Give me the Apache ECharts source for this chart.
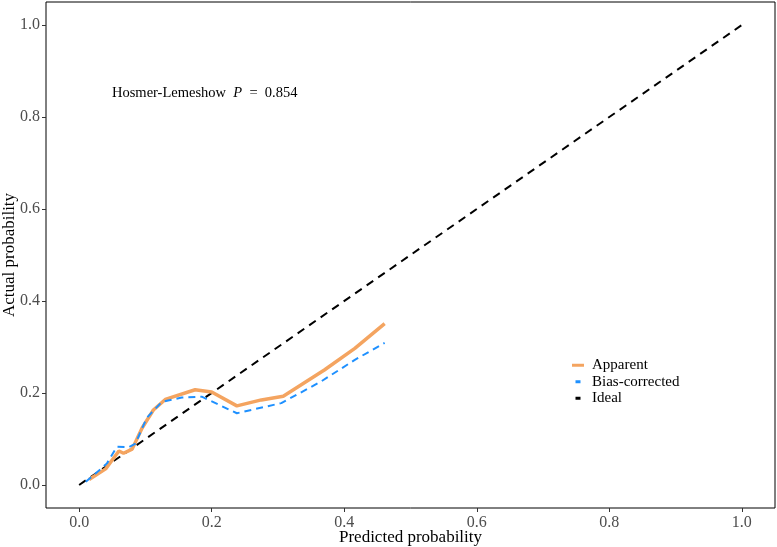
<!DOCTYPE html>
<html>
<head>
<meta charset="utf-8">
<script src="https://cdn.jsdelivr.net/npm/echarts@6/dist/echarts.min.js"></script>
<style>
  html, body { margin: 0; padding: 0; background: #fff; }
  #main { width: 777px; height: 547px; }
</style>
</head>
<body>
<div id="main"></div>
<script>
// calibration curves
var apparentX = [0.015, 0.040, 0.060, 0.067, 0.080, 0.095, 0.112, 0.130, 0.175, 0.200, 0.238, 0.275, 0.308, 0.370, 0.416, 0.461];
var apparentY = [0.012, 0.035, 0.074, 0.069, 0.078, 0.124, 0.163, 0.186, 0.207, 0.202, 0.172, 0.185, 0.193, 0.250, 0.297, 0.351];
var biasX = [0.010, 0.032, 0.042, 0.057, 0.075, 0.085, 0.102, 0.125, 0.155, 0.185, 0.238, 0.305, 0.365, 0.416, 0.461];
var biasY = [0.007, 0.034, 0.047, 0.083, 0.082, 0.090, 0.146, 0.181, 0.190, 0.192, 0.156, 0.178, 0.225, 0.272, 0.309];
var idealX = [0, 1];
var idealY = [0, 1];
var tickValues = [0, 0.2, 0.4, 0.6, 0.8, 1.0];
var seriesNames = ['Apparent', 'Bias-corrected', 'Ideal'];

function pairs(xs, ys) {
  return xs.map(function (x, i) { return [x, ys[i]]; });
}

var font = 'Liberation Serif';
var chart = echarts.init(document.getElementById('main'));

function makeAxis(name, gap, margin) {
  return {
    type: 'value',
    min: -0.05,
    max: 1.05,
    name: name,
    nameLocation: 'middle',
    nameGap: gap,
    nameMoveOverlap: false,
    splitLine: { show: false },
    axisLine: { show: false, onZero: false },
    axisTick: { show: true, length: 4, customValues: tickValues, lineStyle: { color: '#333' } },
    nameTextStyle: { fontFamily: font, fontSize: 17, color: '#000' },
    axisLabel: {
      fontFamily: font, fontSize: 16, color: '#4d4d4d', margin: margin,
      customValues: tickValues,
      formatter: function (v) { return v.toFixed(1); }
    }
  };
}

chart.setOption({
  animation: false,
  backgroundColor: '#fff',
  grid: {
    left: 46, right: 2, top: 2, bottom: 39,
    outerBoundsMode: 'none',
    containLabel: false,
    show: true, borderColor: '#000', borderWidth: 1, backgroundColor: 'transparent'
  },
  xAxis: makeAxis('Predicted probability', 21, 7),
  yAxis: makeAxis('Actual probability', 28, 6),
  legend: {
    orient: 'vertical',
    left: 572,
    top: 357,
    padding: 0,
    itemGap: 0,
    itemWidth: 12,
    itemHeight: 3,
    textStyle: { fontFamily: font, fontSize: 15, color: '#000', lineHeight: 16.5, padding: [0, 0, 0, 3] },
    data: [
      { name: seriesNames[0], icon: 'rect', itemStyle: { color: '#F4A460' } },
      { name: seriesNames[1], icon: 'path://M0,0h5v3h-5z', itemStyle: { color: '#1E90FF' } },
      { name: seriesNames[2], icon: 'path://M0,0h5v3h-5z', itemStyle: { color: '#000' } }
    ]
  },
  graphic: [{
    type: 'text',
    left: 112,
    top: 86,
    style: {
      text: '{a|Hosmer-Lemeshow  }{b|P}{a|  =  0.854}',
      rich: {
        a: { fontFamily: font, fontSize: 14.5, fill: '#000' },
        b: { fontFamily: font, fontSize: 14.5, fontStyle: 'italic', fill: '#000' }
      }
    }
  }],
  series: [
    {
      name: seriesNames[0], type: 'line', data: pairs(apparentX, apparentY),
      showSymbol: false, symbol: 'none', z: 3,
      lineStyle: { color: '#F4A460', width: 3.5 },
      itemStyle: { color: '#F4A460' }
    },
    {
      name: seriesNames[1], type: 'line', data: pairs(biasX, biasY),
      showSymbol: false, symbol: 'none', z: 4,
      lineStyle: { color: '#1E90FF', width: 2, type: [7, 5] },
      itemStyle: { color: '#1E90FF' }
    },
    {
      name: seriesNames[2], type: 'line', data: pairs(idealX, idealY),
      showSymbol: false, symbol: 'none', z: 2,
      lineStyle: { color: '#000', width: 2, type: [8, 6] },
      itemStyle: { color: '#000' }
    }
  ]
});
</script>
</body>
</html>
